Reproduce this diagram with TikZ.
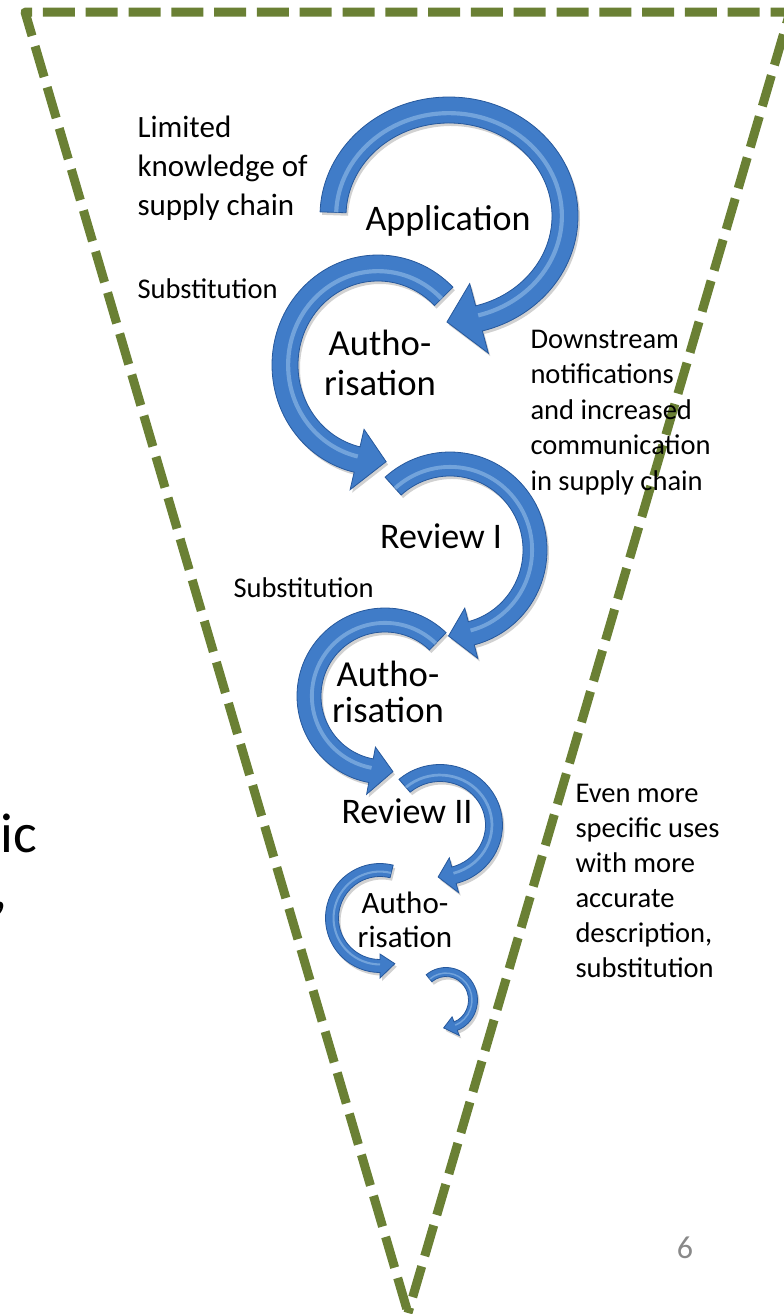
\documentclass[tikz,border=0pt]{standalone}
\usepackage{fontspec}
\setmainfont{Carlito}

\definecolor{trigreen}{RGB}{106,128,52}
\definecolor{curlblue}{RGB}{64,124,200}
\definecolor{curledge}{RGB}{38,88,156}
\definecolor{curlshine}{RGB}{176,212,244}
\definecolor{pagegray}{RGB}{137,137,137}

\tikzset{every picture/.style={line width=0.75pt}}

% curled arrow: centre #1,#2; radii #3,#4; band width #5;
% tail angle #6, head angle #7, tip angle #8, head half width #9
\newcommand{\curlarrow}[9]{%
  \pgfmathsetmacro\oa{#3+#5/2}\pgfmathsetmacro\ob{#4+#5/2}%
  \pgfmathsetmacro\ia{#3-#5/2}\pgfmathsetmacro\ib{#4-#5/2}%
  \pgfmathsetmacro\ha{#3+#9}\pgfmathsetmacro\hb{#4+#9}%
  \pgfmathsetmacro\ja{#3-#9}\pgfmathsetmacro\jb{#4-#9}%
  \pgfmathsetmacro\sa{#3-#5*0.12}\pgfmathsetmacro\sb{#4-#5*0.12}%
  \pgfmathsetmacro\sw{#5*0.16*0.75}%
  \def\curlpath{(#6:{\oa} and {\ob}) arc[start angle=#6, end angle=#7, x radius=\oa, y radius=\ob]
    -- (#7:{\ha} and {\hb}) -- (#8:{#3} and {#4}) -- (#7:{\ja} and {\jb})
    -- (#7:{\ia} and {\ib}) arc[start angle=#7, end angle=#6, x radius=\ia, y radius=\ib] -- cycle}%
  \begin{scope}[shift={(#1,#2)}]
    \fill [black, opacity=0.18, shift={(2,3)}] \curlpath;
    \filldraw [fill=curlblue, draw=curledge, line width=0.6pt] \curlpath;
    \draw [curlshine, opacity=0.45, line width=\sw pt] (#6:{\sa} and {\sb}) arc[start angle=#6, end angle=#7, x radius=\sa, y radius=\sb];
  \end{scope}}

\begin{document}
\begin{tikzpicture}[x=0.75pt,y=0.75pt,yscale=-1,xscale=1]
				\useasboundingbox (0,0) rectangle (784,1314);
				
				%Shape: Triangle, dashed outline
				\draw [color=trigreen, line width=6.75pt, dash pattern={on 24pt off 8.1pt}, dash phase=28.7pt, line join=round] (408,1313) -- (25,12) -- (790,12) -- (408,1313) ;
				
				%Shape: Circular Arrow [Application]
				\curlarrow{449}{216}{116}{106}{26}{182}{435}{451}{36}
				%Shape: Circular Arrow [Authorisation]
				\curlarrow{378}{365}{93}{97}{26}{-45}{-257}{-275}{31}
				%Shape: Circular Arrow [Review I]
				\curlarrow{450}{550}{85}{86}{24}{228}{435.5}{451}{26}
				%Shape: Circular Arrow [Authorisation]
				\curlarrow{385}{696}{76}{76}{24}{-46}{-259.4}{-276}{24}
				%Shape: Circular Arrow [Review II]
				\curlarrow{440}{825}{54}{52}{17}{229}{435}{452}{18}
				%Shape: Circular Arrow [Authorisation]
				\curlarrow{380}{918}{48}{48}{13}{-76}{-270}{-288}{12}
				%Shape: Circular Arrow [last]
				\curlarrow{446}{1000}{27}{28}{9}{231}{429}{455}{10}
				
				% Text Node
				\draw (137,215) node (limited) [anchor=base west][inner sep=0pt] [align=left] [font=\fontsize{23.25}{28.9}\selectfont] {Limited\\knowledge of\\supply chain};
				% Text Node
				\draw (448,230) node (appl) [anchor=base][inner sep=0pt] [font=\fontsize{27}{30}\selectfont] {Application};
				% Text Node
				\draw (137,298) node (subst1) [anchor=base west][inner sep=0pt] [font=\fontsize{21.4}{26}\selectfont] {Substitution};
				% Text Node
				\draw (380,395) node (auth1) [anchor=base][inner sep=0pt] [align=center] [font=\fontsize{27.5}{30}\selectfont] {Autho-\\risation};
				% Text Node
				\draw (530,490) node (downstream) [anchor=base west][inner sep=0pt] [align=left] [font=\fontsize{21.4}{26.6}\selectfont] {Downstream\\notifications\\and increased\\communication\\in supply chain};
				% Text Node
				\draw (441,548) node (review1) [anchor=base][inner sep=0pt] [font=\fontsize{27}{30}\selectfont] {Review I};
				% Text Node
				\draw (233,597) node (subst2) [anchor=base west][inner sep=0pt] [font=\fontsize{21.4}{26}\selectfont] {Substitution};
				% Text Node
				\draw (388,722) node (auth2) [anchor=base][inner sep=0pt] [align=center] [font=\fontsize{27.5}{27}\selectfont] {Autho-\\risation};
				% Text Node
				\draw (407,823) node (review2) [anchor=base][inner sep=0pt] [font=\fontsize{27}{30}\selectfont] {Review II};
				% Text Node
				\draw (405,947) node (auth3) [anchor=base][inner sep=0pt] [align=center] [font=\fontsize{23.25}{25.5}\selectfont] {Autho-\\risation};
				% Text Node
				\draw (575,977) node (evenmore) [anchor=base west][inner sep=0pt] [align=left] [font=\fontsize{21.4}{26.25}\selectfont] {Even more\\specific uses\\with more\\accurate\\description,\\substitution};
				% Text Node
				\draw (0,852) node (ic) [anchor=base west][inner sep=0pt] [font=\fontsize{42}{50}\selectfont] {ic};
				% Text Node
				\draw (-7,908) node (comma) [anchor=base west][inner sep=0pt] [font=\fontsize{42}{50}\selectfont] {,};
				% Text Node
				\draw (685,1258) node (pageno) [anchor=base][inner sep=0pt] [text=pagegray] [font=\fontsize{24}{28}\selectfont] {6};
				
\end{tikzpicture}
\end{document}
